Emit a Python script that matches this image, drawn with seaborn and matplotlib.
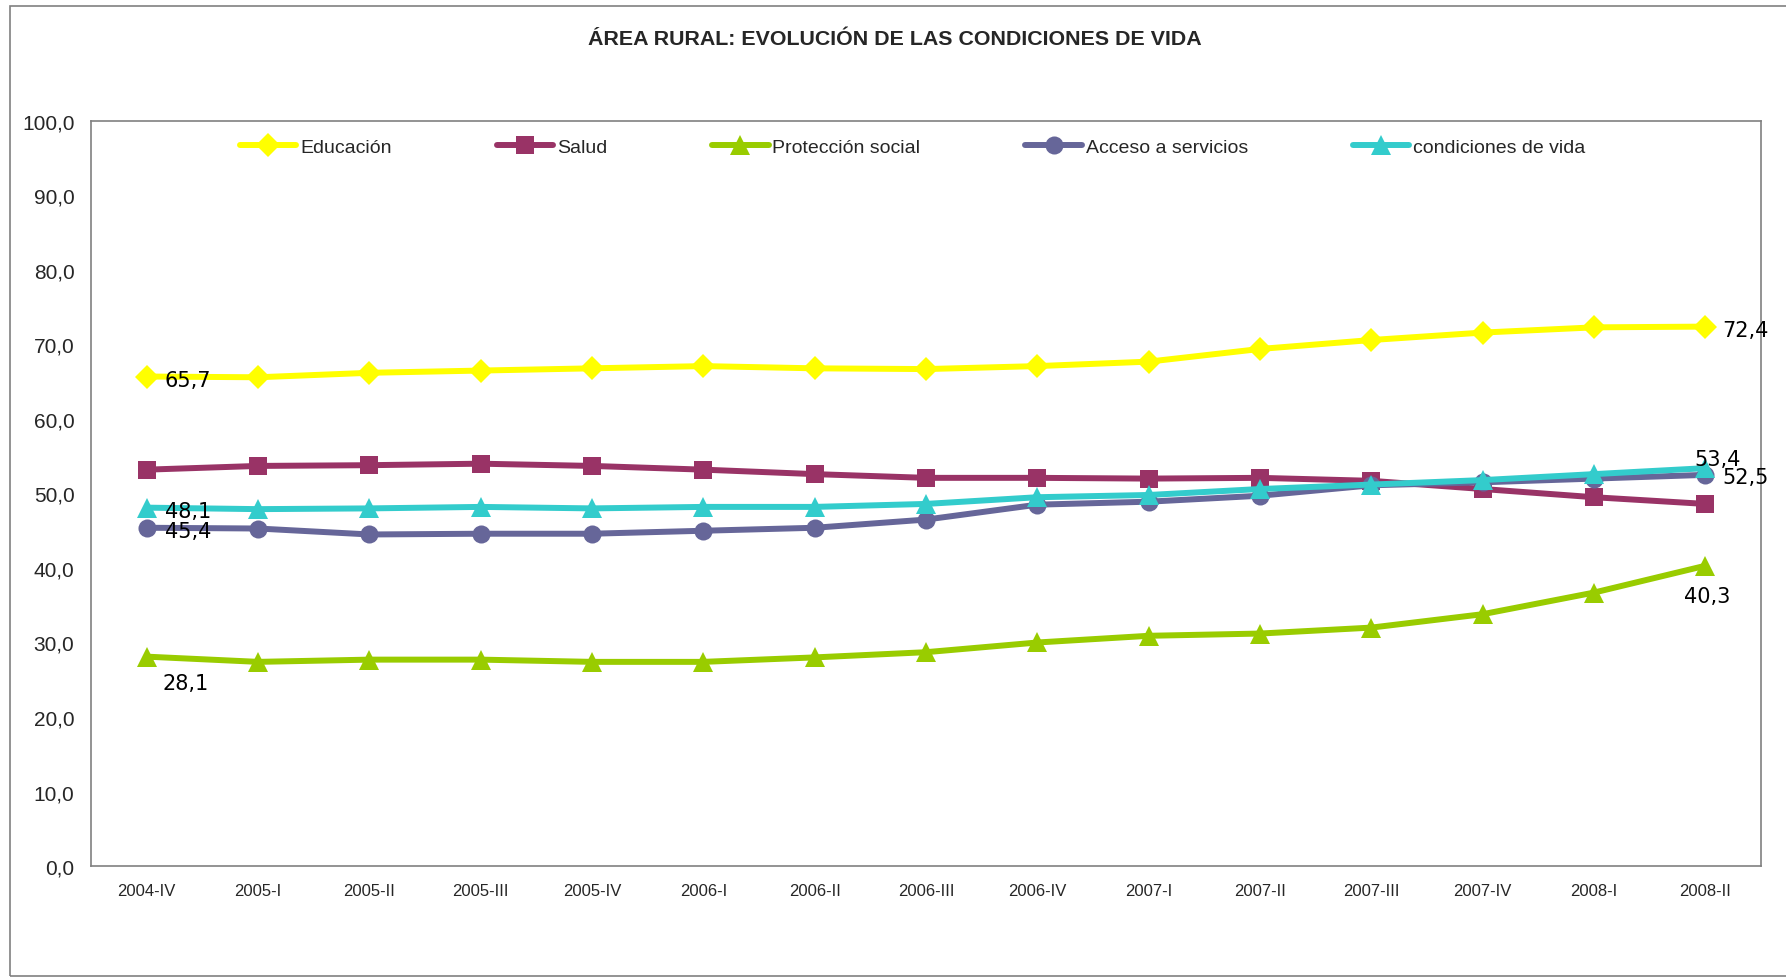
import matplotlib
matplotlib.use("Agg")
import matplotlib.pyplot as plt
import seaborn as sns
from matplotlib.patches import Rectangle
from matplotlib.ticker import FuncFormatter

# Data
periods = ["2004-IV", "2005-I", "2005-II", "2005-III", "2005-IV", "2006-I", "2006-II",
           "2006-III", "2006-IV", "2007-I", "2007-II", "2007-III", "2007-IV", "2008-I", "2008-II"]
educacion = [65.7, 65.6, 66.2, 66.5, 66.8, 67.1, 66.8, 66.7, 67.1, 67.7, 69.4, 70.6, 71.6, 72.3, 72.4]
salud = [53.2, 53.7, 53.8, 54.0, 53.7, 53.2, 52.6, 52.1, 52.1, 52.0, 52.1, 51.7, 50.6, 49.5, 48.6]
proteccion = [28.1, 27.4, 27.7, 27.7, 27.4, 27.4, 28.0, 28.7, 30.0, 30.9, 31.2, 32.0, 33.8, 36.7, 40.3]
acceso = [45.4, 45.3, 44.5, 44.6, 44.6, 45.0, 45.4, 46.5, 48.5, 48.9, 49.7, 51.1, 51.5, 52.0, 52.5]
condiciones = [48.1, 47.9, 48.0, 48.2, 48.0, 48.2, 48.2, 48.6, 49.5, 49.8, 50.6, 51.2, 51.8, 52.6, 53.4]

sns.set_style("white")
plt.rcParams['font.family'] = ["Liberation Sans", "DejaVu Sans"]

fig = plt.figure(figsize=(17.86, 9.79), dpi=100)
ax = fig.add_axes([0.051, 0.1144, 0.935, 0.761])

# outer chart border
fig.patches.append(Rectangle((10 / 1786, 2 / 979), 1.2, 970 / 979, transform=fig.transFigure,
                             fill=False, edgecolor="#808080", lw=1.2))

x = list(range(len(periods)))
series = [
    ("Educación", educacion, "#FFFF00", "D", 12),
    ("Salud", salud, "#993366", "s", 13),
    ("Protección social", proteccion, "#99CC00", "^", 14),
    ("Acceso a servicios", acceso, "#666699", "o", 13),
    ("condiciones de vida", condiciones, "#33CCCC", "^", 14),
]
for name, vals, color, mk, ms in series:
    sns.lineplot(x=x, y=vals, ax=ax, color=color, marker=mk, markersize=ms, lw=4.3,
                 markeredgewidth=0, label=name, sort=False)

# Data labels on first and last points
lab = dict(fontsize=15, family="DejaVu Sans", color="black")
ax.annotate("65,7", (0, educacion[0]), xytext=(13, -7), textcoords="offset points", **lab)
ax.annotate("48,1", (0, condiciones[0]), xytext=(13, -7), textcoords="offset points", **lab)
ax.annotate("45,4", (0, acceso[0]), xytext=(13, -7), textcoords="offset points", **lab)
ax.annotate("28,1", (0, proteccion[0]), xytext=(11, -23), textcoords="offset points", **lab)
ax.annotate("72,4", (14, educacion[-1]), xytext=(12, -7), textcoords="offset points", **lab)
ax.annotate("53,4", (14, condiciones[-1]), xytext=(-8, 2), textcoords="offset points", **lab)
ax.annotate("52,5", (14, acceso[-1]), xytext=(12, -6), textcoords="offset points", **lab)
ax.annotate("40,3", (14, proteccion[-1]), xytext=(-15, -26), textcoords="offset points", **lab)

ax.set_xlim(-0.5, 14.5)
ax.set_ylim(0, 100)
ax.set_yticks(range(0, 101, 10))
ax.yaxis.set_major_formatter(FuncFormatter(lambda v, p: f"{v:.1f}".replace(".", ",")))
ax.set_xticks(x)
ax.set_xticklabels(periods)
ax.tick_params(axis="y", length=0, pad=12, labelsize=15)
ax.tick_params(axis="x", length=0, pad=12, labelsize=12)
ax.set_xlabel("")
ax.set_ylabel("")
for s in ax.spines.values():
    s.set_color("#808080")
    s.set_linewidth(1.2)

ax.legend(loc="upper center", bbox_to_anchor=(0.492, 1.0), ncol=5, frameon=False,
          fontsize=14, handlelength=2.9, handletextpad=0.2, columnspacing=5.4)

fig.text(0.501, 0.960, "ÁREA RURAL: EVOLUCIÓN DE LAS CONDICIONES DE VIDA",
         ha="center", va="center", fontsize=15.4, fontweight="bold")

fig.savefig("out.png", dpi=100)
